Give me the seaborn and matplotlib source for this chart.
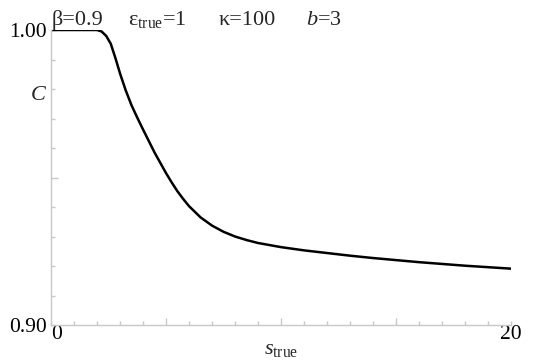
import matplotlib
matplotlib.use("Agg")
import matplotlib.pyplot as plt
import seaborn as sns
import pandas as pd

s_true = [0, 1, 2.0, 2.2, 2.4, 2.6, 2.8, 3.0, 3.25, 3.5, 3.75, 4.0, 4.25, 4.5, 4.75,
          5.0, 5.25, 5.5, 5.75, 6.0, 6.5, 7.0, 7.5, 8.0, 8.5, 9, 10, 11, 12, 13, 14,
          15, 16, 17, 18, 19, 20]
C_vals = [1.0, 1.0, 1.0, 0.9995, 0.998, 0.9953, 0.9905, 0.9853, 0.9795, 0.9745, 0.9703,
          0.9663, 0.9624, 0.9585, 0.9550, 0.9515, 0.9483, 0.9453, 0.9427, 0.9403,
          0.9365, 0.9337, 0.9316, 0.9300, 0.9288, 0.9278, 0.9264, 0.9253, 0.9244,
          0.9235, 0.9227, 0.9220, 0.9213, 0.9207, 0.9201, 0.9196, 0.9191]
x_ticks = list(range(0, 21))
y_ticks = [0.90, 0.91, 0.92, 0.93, 0.94, 0.95, 0.96, 0.97, 0.98, 0.99, 1.00]
x_ticklabels = {0: "0", 20: "20"}
y_ticklabels = {0.90: "0.90", 1.00: "1.00"}

sns.set_theme(style="white")
plt.rcParams['font.family'] = ['Liberation Serif', 'DejaVu Serif']
plt.rcParams['mathtext.fontset'] = 'custom'
plt.rcParams['mathtext.rm'] = 'Liberation Serif'
plt.rcParams['mathtext.it'] = 'Liberation Serif:italic'

df = pd.DataFrame({"s": s_true, "C": C_vals})

fig = plt.figure(figsize=(5.38, 3.6), dpi=100)
ax = fig.add_axes([51/538, 1-325/360, 460/538, 295/360])
sns.lineplot(data=df, x="s", y="C", ax=ax, color="black", linewidth=1.8,
             estimator=None, sort=False)

ax.set_xlim(0, 20)
ax.set_ylim(0.90, 1.00)
for sp in ["top", "right"]:
    ax.spines[sp].set_visible(False)
for sp in ["left", "bottom"]:
    ax.spines[sp].set_color("#c8c8c8")
    ax.spines[sp].set_linewidth(1.0)

ax.set_xticks(x_ticks)
ax.set_xticklabels([x_ticklabels.get(t, "") for t in x_ticks])
ax.set_yticks(y_ticks)
ax.set_yticklabels([y_ticklabels.get(round(t, 2), "") for t in y_ticks])
ax.tick_params(axis="both", which="major", bottom=True, left=True, direction="in",
               length=3, width=1, color="#c8c8c8", labelsize=15.5,
               labelcolor="black")
ax.tick_params(axis="x", pad=0)
ax.tick_params(axis="y", pad=3)
for t, tk in zip(x_ticks, ax.xaxis.get_major_ticks()):
    if t in (5, 10, 15):
        tk.tick1line.set_markersize(5)
for t, tk in zip(y_ticks, ax.yaxis.get_major_ticks()):
    if abs(t - 0.95) < 1e-9:
        tk.tick1line.set_markersize(5)
for lbl in ax.get_xticklabels():
    if lbl.get_text() == "0":
        lbl.set_horizontalalignment("left")
ax.set_xlabel(r"$s_{\mathrm{true}}$", fontsize=16, labelpad=-3)
ax.set_ylabel("")
ax.text(-0.028, 0.777, "C", transform=ax.transAxes, fontsize=16, style="italic",
        ha="center", va="center")

def ftext(x, y, s, **kw):
    fig.text(x/538, 1-y/360, s, fontsize=16, va="baseline", ha="left", **kw)

ftext(52, 25, "β=0.9")
ftext(128, 25, "ε$_{\\mathrm{true}}$=1")
ftext(219, 25, "κ=100")
ftext(306, 25, "$b$=3")

fig.savefig("out.png", dpi=100, facecolor="white")
